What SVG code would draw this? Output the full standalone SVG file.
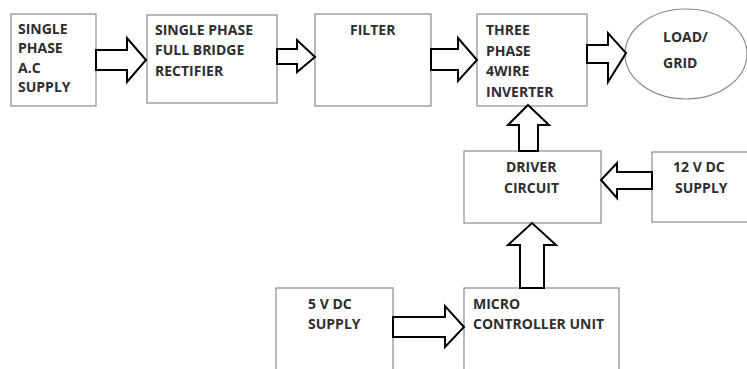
<svg xmlns="http://www.w3.org/2000/svg" width="747" height="369" viewBox="0 0 747 369">
<style>
.box{fill:#fff;stroke:#8a8a8a;stroke-width:1.2}
.arr{fill:#fff;stroke:#000;stroke-width:2;stroke-linejoin:miter}
text{font-family:"Open Sans","Liberation Sans",sans-serif;font-weight:bold;font-size:14px;fill:#2e2e2e}
</style>
<rect width="747" height="369" fill="#fff"/>
<g id="ac-supply">
<rect class="box" x="11" y="14" width="85" height="92"/>
<text x="18" y="34">SINGLE</text>
<text x="18" y="53">PHASE</text>
<text x="18" y="73">A.C</text>
<text x="18" y="92">SUPPLY</text>
</g>
<g id="rectifier">
<rect class="box" x="147" y="15" width="130" height="88"/>
<text x="155" y="35">SINGLE PHASE</text>
<text x="155" y="55">FULL BRIDGE</text>
<text x="155" y="76">RECTIFIER</text>
</g>
<g id="filter">
<rect class="box" x="315" y="14" width="116" height="92"/>
<text x="350" y="35">FILTER</text>
</g>
<g id="inverter">
<rect class="box" x="477" y="14" width="110" height="92"/>
<text x="486" y="35">THREE</text>
<text x="486" y="56">PHASE</text>
<text x="486" y="76">4WIRE</text>
<text x="486" y="97">INVERTER</text>
</g>
<g id="load-grid">
<ellipse class="box" cx="686" cy="54" rx="61" ry="45"/>
<text x="663" y="42">LOAD/</text>
<text x="663" y="68">GRID</text>
</g>
<g id="driver">
<rect class="box" x="464" y="151" width="137" height="72"/>
<text x="506" y="172">DRIVER</text>
<text x="504" y="193">CIRCUIT</text>
</g>
<g id="dc12">
<rect class="box" x="652" y="152" width="100" height="70"/>
<text x="673" y="172">12 V DC</text>
<text x="675" y="193">SUPPLY</text>
</g>
<g id="dc5">
<rect class="box" x="276" y="288" width="117" height="90"/>
<text x="308" y="309">5 V DC</text>
<text x="308" y="329">SUPPLY</text>
</g>
<g id="mcu">
<rect class="box" x="464" y="288" width="155" height="90"/>
<text x="473" y="309">MICRO</text>
<text x="473" y="329">CONTROLLER UNIT</text>
</g>
<g id="connectors">
<polygon class="arr" points="96,50 127,50 127,38 146,60 127,82 127,70 96,70"/>
<polygon class="arr" points="277,49 297,49 297,40 315,57 297,72 297,64 277,64"/>
<polygon class="arr" points="431,49 458,49 458,38 477,60 458,81 458,70 431,70"/>
<polygon class="arr" points="587,45 608,45 608,33 626,53 608,82 608,63 587,63"/>
<polygon class="arr" points="538,151 538,125 549,125 528,105 508,125 519,125 519,151"/>
<polygon class="arr" points="652,172 617,172 617,163 601,180 617,198 617,189 652,189"/>
<polygon class="arr" points="544,288 544,245 556,245 532,223 508,245 520,245 520,288"/>
<polygon class="arr" points="393,317 445,317 445,306 464,327 445,347 445,337 393,337"/>
</g>
</svg>
